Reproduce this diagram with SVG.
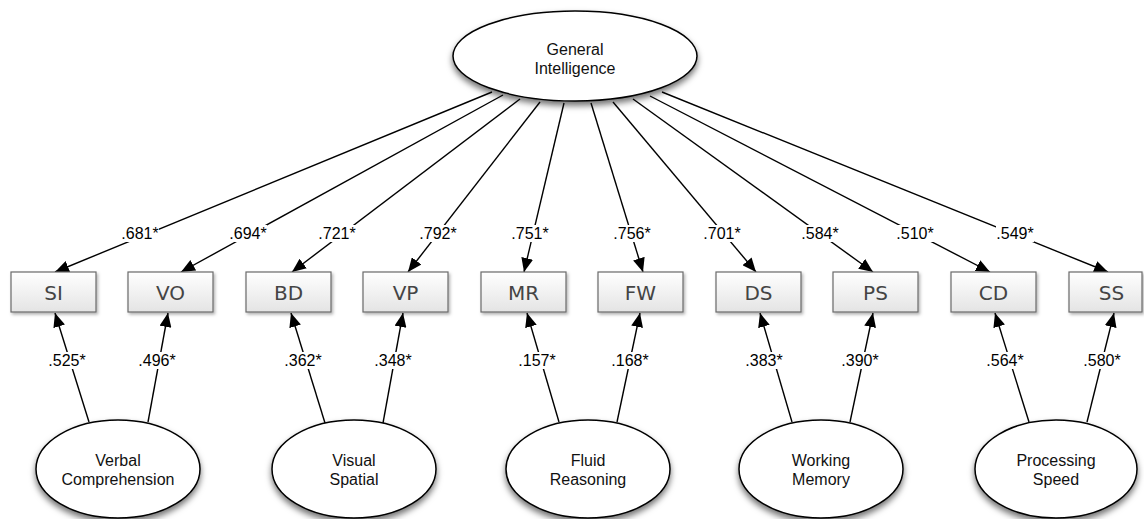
<svg xmlns="http://www.w3.org/2000/svg" width="1144" height="519" viewBox="0 0 1144 519">
<style>
.ell{fill:#fff;stroke:#000;stroke-width:1.5;filter:url(#shE)}
.etx{font-family:"Liberation Sans",Arial,sans-serif;font-size:16px;fill:#111;text-anchor:middle}
.box{fill:url(#gB);stroke:#6a6a6a;stroke-width:1.2;filter:url(#shB)}
.btx{font-family:"DejaVu Sans",Verdana,sans-serif;font-size:20px;fill:#444;text-anchor:middle}
.ln{stroke:#000;stroke-width:1.4;fill:none;marker-end:url(#arr)}
.lb{font-family:"Liberation Sans",Arial,sans-serif;font-size:16px;fill:#000;text-anchor:middle}
.lbg{fill:#fff}
</style>
<defs>
<linearGradient id="gB" x1="0" y1="0" x2="0" y2="1">
<stop offset="0" stop-color="#ffffff"/>
<stop offset="1" stop-color="#e4e4e4"/>
</linearGradient>
<filter id="shE" x="-20%" y="-20%" width="140%" height="150%">
<feDropShadow dx="0" dy="4" stdDeviation="3" flood-color="#000" flood-opacity="0.55"/>
</filter>
<filter id="shB" x="-10%" y="-20%" width="130%" height="160%">
<feDropShadow dx="1.5" dy="2" stdDeviation="1.5" flood-color="#000" flood-opacity="0.3"/>
</filter>
<marker id="arr" markerUnits="userSpaceOnUse" markerWidth="14" markerHeight="12" viewBox="0 0 14 12" refX="14" refY="6" orient="auto">
<path d="M0,0 L14,6 L0,12 z" fill="#000"/>
</marker>
</defs>

<g id="connectors">
<line class="ln" x1="492" y1="92" x2="55" y2="272"/>
<line class="ln" x1="503" y1="95" x2="181" y2="272"/>
<line class="ln" x1="520" y1="99" x2="292" y2="272"/>
<line class="ln" x1="540" y1="102" x2="408" y2="272"/>
<line class="ln" x1="564" y1="103" x2="524" y2="272"/>
<line class="ln" x1="591" y1="103" x2="643" y2="272"/>
<line class="ln" x1="613" y1="102" x2="756" y2="272"/>
<line class="ln" x1="633" y1="99" x2="873" y2="272"/>
<line class="ln" x1="650" y1="96" x2="990" y2="272"/>
<line class="ln" x1="662" y1="92" x2="1108" y2="272"/>

<line class="ln" x1="89" y1="422" x2="55" y2="313"/>
<line class="ln" x1="148" y1="422" x2="168" y2="313"/>
<line class="ln" x1="325" y1="423" x2="291" y2="313"/>
<line class="ln" x1="383" y1="423" x2="403" y2="313"/>
<line class="ln" x1="559" y1="422" x2="527" y2="313"/>
<line class="ln" x1="617" y1="422" x2="640" y2="313"/>
<line class="ln" x1="792" y1="422" x2="760" y2="313"/>
<line class="ln" x1="850" y1="422" x2="873" y2="313"/>
<line class="ln" x1="1029" y1="422" x2="995" y2="313"/>
<line class="ln" x1="1087" y1="422" x2="1114" y2="313"/>

<g id="labels">
<rect class="lbg" x="121" y="225" width="38" height="17"/><text class="lb" x="140" y="239">.681*</text>
<rect class="lbg" x="229" y="225" width="38" height="17"/><text class="lb" x="248" y="239">.694*</text>
<rect class="lbg" x="318" y="225" width="38" height="17"/><text class="lb" x="337" y="239">.721*</text>
<rect class="lbg" x="419" y="225" width="38" height="17"/><text class="lb" x="438" y="239">.792*</text>
<rect class="lbg" x="511" y="225" width="38" height="17"/><text class="lb" x="530" y="239">.751*</text>
<rect class="lbg" x="613" y="225" width="38" height="17"/><text class="lb" x="632" y="239">.756*</text>
<rect class="lbg" x="703" y="225" width="38" height="17"/><text class="lb" x="722" y="239">.701*</text>
<rect class="lbg" x="801" y="225" width="38" height="17"/><text class="lb" x="820" y="239">.584*</text>
<rect class="lbg" x="896" y="225" width="38" height="17"/><text class="lb" x="915" y="239">.510*</text>
<rect class="lbg" x="996" y="225" width="38" height="17"/><text class="lb" x="1015" y="239">.549*</text>

<rect class="lbg" x="48" y="352" width="38" height="17"/><text class="lb" x="67" y="366">.525*</text>
<rect class="lbg" x="138" y="352" width="38" height="17"/><text class="lb" x="157" y="366">.496*</text>
<rect class="lbg" x="284" y="352" width="38" height="17"/><text class="lb" x="303" y="366">.362*</text>
<rect class="lbg" x="374" y="352" width="38" height="17"/><text class="lb" x="393" y="366">.348*</text>
<rect class="lbg" x="518" y="352" width="38" height="17"/><text class="lb" x="537" y="366">.157*</text>
<rect class="lbg" x="611" y="352" width="38" height="17"/><text class="lb" x="630" y="366">.168*</text>
<rect class="lbg" x="745" y="352" width="38" height="17"/><text class="lb" x="764" y="366">.383*</text>
<rect class="lbg" x="841" y="352" width="38" height="17"/><text class="lb" x="860" y="366">.390*</text>
<rect class="lbg" x="986" y="352" width="38" height="17"/><text class="lb" x="1005" y="366">.564*</text>
<rect class="lbg" x="1083" y="352" width="38" height="17"/><text class="lb" x="1102" y="366">.580*</text>
</g>
</g>

<g id="general-intelligence">
<ellipse class="ell" cx="575" cy="56" rx="122" ry="45"/>
<text class="etx" x="575" y="55">General</text>
<text class="etx" x="575" y="74">Intelligence</text>
</g>

<g id="SI"><rect class="box" x="11" y="272" width="85" height="40"/><text class="btx" x="53.5" y="300">SI</text></g>
<g id="VO"><rect class="box" x="128" y="272" width="85" height="40"/><text class="btx" x="170.5" y="300">VO</text></g>
<g id="BD"><rect class="box" x="246" y="272" width="85" height="40"/><text class="btx" x="288.5" y="300">BD</text></g>
<g id="VP"><rect class="box" x="363" y="272" width="85" height="40"/><text class="btx" x="405.5" y="300">VP</text></g>
<g id="MR"><rect class="box" x="481" y="272" width="85" height="40"/><text class="btx" x="523.5" y="300">MR</text></g>
<g id="FW"><rect class="box" x="598" y="272" width="85" height="40"/><text class="btx" x="640.5" y="300">FW</text></g>
<g id="DS"><rect class="box" x="716" y="272" width="85" height="40"/><text class="btx" x="758.5" y="300">DS</text></g>
<g id="PS"><rect class="box" x="833" y="272" width="85" height="40"/><text class="btx" x="875.5" y="300">PS</text></g>
<g id="CD"><rect class="box" x="951" y="272" width="85" height="40"/><text class="btx" x="993.5" y="300">CD</text></g>
<g id="SS"><rect class="box" x="1069" y="272" width="73" height="40"/><text class="btx" x="1111.5" y="300">SS</text></g>

<g id="verbal-comprehension">
<ellipse class="ell" cx="118" cy="469" rx="82" ry="49"/>
<text class="etx" x="118" y="466">Verbal</text>
<text class="etx" x="118" y="485">Comprehension</text>
</g>
<g id="visual-spatial">
<ellipse class="ell" cx="354" cy="469" rx="82" ry="49"/>
<text class="etx" x="354" y="466">Visual</text>
<text class="etx" x="354" y="485">Spatial</text>
</g>
<g id="fluid-reasoning">
<ellipse class="ell" cx="588" cy="469" rx="82" ry="49"/>
<text class="etx" x="588" y="466">Fluid</text>
<text class="etx" x="588" y="485">Reasoning</text>
</g>
<g id="working-memory">
<ellipse class="ell" cx="821" cy="469" rx="82" ry="49"/>
<text class="etx" x="821" y="466">Working</text>
<text class="etx" x="821" y="485">Memory</text>
</g>
<g id="processing-speed">
<ellipse class="ell" cx="1056" cy="469" rx="81" ry="49"/>
<text class="etx" x="1056" y="466">Processing</text>
<text class="etx" x="1056" y="485">Speed</text>
</g>
</svg>
